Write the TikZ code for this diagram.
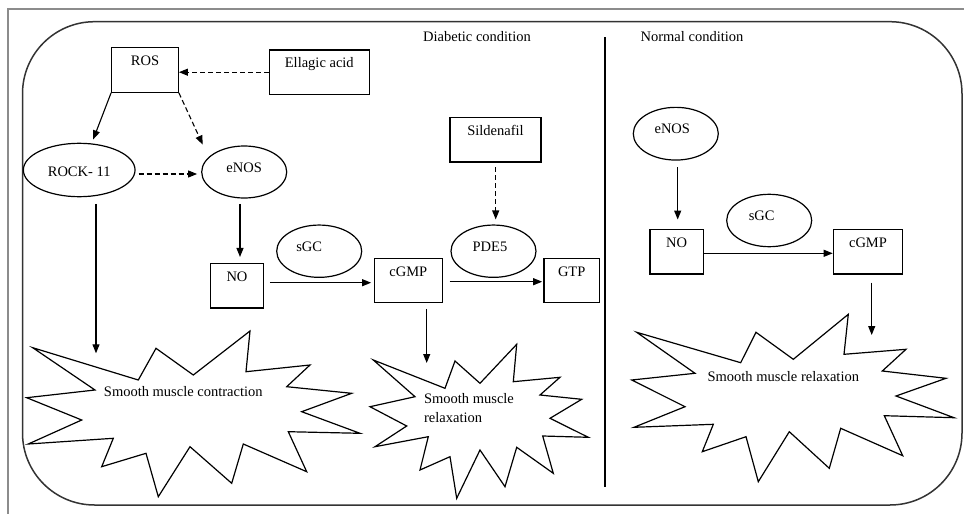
\documentclass[tikz,border=0pt]{standalone}
\usepackage{fontspec}
\setmainfont{Liberation Serif}
\usetikzlibrary{arrows.meta,calc,shapes.geometric}
\begin{document}
\begin{tikzpicture}[x=1pt,y=-1pt,
  font=\fontsize{14.5}{19}\selectfont,
  box/.style={draw, line width=1.2pt, rectangle, inner sep=0pt, text height=18pt, text depth=26.5pt},
  oval/.style={draw, line width=1.2pt, ellipse, inner sep=0pt, minimum width=85pt, minimum height=52.3pt, text height=9pt, text depth=9pt},
  arr/.style={line width=1.1pt, -{Triangle[length=9pt,width=7pt]}},
  darr/.style={arr, dash pattern=on 5pt off 3pt},
  burst/.style={draw, line width=1.2pt, line join=miter},
  frame/.style={draw=black!80, line width=1.5pt, rounded corners=72pt}]
\useasboundingbox (0,0) rectangle (964,514);
% outer gray L frame
\draw[draw=black!45, line width=2pt] (8,514) -- (8,9) -- (964,9);
% rounded panel
\draw[frame] (22.5,21.7) rectangle (962,505);
% divider
\draw[line width=1.2pt] (605,37) -- (605,487);
% titles
\node (tD) at (477,37) {Diabetic condition};
\node (tN) at (692,37) {Normal condition};

% ---- diabetic side
\node[box, minimum width=66.6pt] (ROS) at (145,70) {ROS};
\node[box, minimum width=100pt] (Ell) at (319.3,72.2) {Ellagic acid};
\node[box, minimum width=91pt] (Sil) at (495.5,139.8) {Sildenafil};
\node[box, minimum width=52.6pt] (NO) at (237,285.8) {NO};
\node[box, minimum width=68pt] (cGMP) at (408.3,280.5) {cGMP};
\node[box, minimum width=55.3pt] (GTP) at (571.7,280.5) {GTP};

\node[oval, minimum width=111.7pt, minimum height=53.4pt, text height=13pt, text depth=0pt] (ROCK) at (79.2,170) {ROCK- 11};
\node[oval, minimum height=52pt] (eNOS) at (244.2,172) {eNOS};
\node[oval] (sGC) at (319.2,251.2) {sGC\hspace*{20pt}};
\node[oval] (PDE) at (493.5,251.2) {PDE5\hspace*{7pt}};

% starbursts
\draw[burst] (32.7,347.7) -- (138.3,380) -- (156,348.3) -- (193.3,375) -- (250,331) -- (246,371.7) -- (310,365) -- (286.7,386.7) -- (351.7,393.3) -- (301.7,411.7) -- (360,433.3) -- (288.3,431.7) -- (306.7,471.7) -- (243.3,444) -- (231.7,483.3) -- (190,446.7) -- (158.3,496.7) -- (146,453.3) -- (101.7,466.7) -- (113.3,438.3) -- (28.3,444) -- (81.7,420) -- (26.7,397.7) -- (95,390) -- cycle;
\node (contr) at (183.3,391.7) {Smooth muscle contraction};

\draw[burst] (373.3,360) -- (445,388.3) -- (455,361) -- (480,383.3) -- (516.7,344.3) -- (513.3,381.7) -- (560,377.3) -- (540,395) -- (581.7,399.3) -- (550,418.3) -- (588.3,437.3) -- (542.7,436) -- (553.3,473.3) -- (516.7,447.3) -- (505,486.7) -- (480,450) -- (456.7,498.3) -- (450,456.7) -- (420,470) -- (428.3,436.7) -- (375,446.7) -- (406.7,426) -- (370,406.7) -- (415,396.7) -- cycle;
\node[align=left] (relM) at (469,408.5) {Smooth muscle\\relaxation};

% arrows diabetic
\draw[darr] (Ell.west) -- (ROS.east |- Ell.west);
\draw[arr] (ROS.south west) -- ($(ROCK.north)+(14,-3.3)$);
\draw[darr] (ROS.south east) -- ($(eNOS.north west)+(-11,-8.6)$);
\draw[darr] ($(ROCK.east)+(3,4)$) -- ($(eNOS.west)+(-4,2)$);
\draw[arr] ($(ROCK.south)+(16.8,6.6)$) -- ($(contr)+(-87.3,-38.4)$);
\draw[arr] ($(eNOS.south)+(-4.2,5.3)$) -- ($(NO.north)+(3,-6)$);
\draw[arr] ($(NO.east)+(6,-3.1)$) -- ($(cGMP.west)+(-2.6,2.2)$);
\draw[arr] ($(cGMP.east)+(6.7,1.2)$) -- ($(GTP.west)+(-1.3,1.2)$);
\draw[darr] ($(Sil.south)+(0.2,4.4)$) -- ($(PDE.north)+(2.2,-5)$);
\draw[arr] ($(cGMP.south)+(18.4,5.6)$) -- ($(relM)+(-42.3,-45.5)$);

% ---- normal side
\node[oval, minimum height=52.7pt] (eNOS2) at (675.8,133.7) {eNOS\hspace*{7pt}};
\node[oval, minimum height=52.4pt] (sGC2) at (769.2,220.5) {sGC\hspace*{15pt}};
\node[box, minimum width=53.3pt] (NO2) at (676.7,251.7) {NO};
\node[box, minimum width=69.4pt] (cGMP2) at (868,251.7) {cGMP};

\draw[burst] (636.7,332.3) -- (740.7,362.7) -- (756,332.3) -- (793.3,359.3) -- (848.3,314.3) -- (844,354.3) -- (906,349.3) -- (882.3,371) -- (946,378.3) -- (896,396) -- (954,417.7) -- (884.3,415.7) -- (902.7,455.7) -- (840.7,428.3) -- (829.3,468.3) -- (789.3,431.7) -- (758.3,481.7) -- (746,436.7) -- (702.3,451.7) -- (713.3,424.3) -- (634,427.3) -- (685,406.7) -- (631.7,380) -- (695,373.3) -- cycle;
\node (relR) at (783.3,376.7) {Smooth muscle relaxation};

\draw[arr] ($(eNOS2.south)+(1.9,6.4)$) -- ($(NO2.north)+(1,-9.3)$);
\draw[arr] ($(NO2.east)+(0,1.6)$) -- ($(cGMP2.west)+(0,1.6)$);
\draw[arr] ($(cGMP2.south)+(3.7,8)$) -- ($(relR)+(88.4,-41.7)$);
\end{tikzpicture}
\end{document}
